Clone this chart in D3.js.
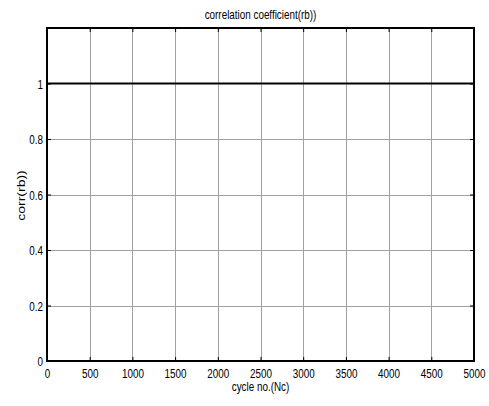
<!DOCTYPE html>
<html>
<head>
<meta charset="utf-8">
<script src="https://cdn.jsdelivr.net/npm/d3@7"></script>
<style>
  html, body { margin: 0; padding: 0; background: #fff; }
  svg { display: block; }
  text { font-family: "Liberation Sans", Arial, Helvetica, sans-serif; fill: #000; }
</style>
</head>
<body>
<svg id="chart" width="489" height="406"></svg>
<script>
// Correlation coefficient per cycle number
const cycles = [0, 500, 1000, 1500, 2000, 2500, 3000, 3500, 4000, 4500, 5000];
const corr = [1, 1, 1, 1, 1, 1, 1, 1, 1, 1, 1];
const xTicks = [0, 500, 1000, 1500, 2000, 2500, 3000, 3500, 4000, 4500, 5000];
const yTicks = [0, 0.2, 0.4, 0.6, 0.8, 1];

const W = 489, H = 406;
const m = { left: 47, right: 15, top: 28, bottom: 45 };
const FS = 13;      // font size
const SQ = 0.76;    // horizontal condensing of the lettering
const svg = d3.select("#chart");

const x = d3.scaleLinear().domain([0, 5000]).range([m.left, W - m.right]);
const y = d3.scaleLinear().domain([0, 1.2]).range([H - m.bottom, m.top]);

// condense a text element horizontally about its own anchor point
function condense(sel) {
  sel.each(function () {
    const t = d3.select(this);
    const tx = +t.attr("x") || 0, ty = +t.attr("y") || 0;
    t.attr("x", 0).attr("y", 0)
     .attr("transform", `translate(${tx},${ty}) scale(${SQ},1)`);
  });
}

// grid
const grid = svg.append("g").attr("stroke", "#a0a0a0").attr("stroke-width", 1);
grid.selectAll("line.vx").data(xTicks.slice(1, -1)).join("line")
  .attr("x1", d => Math.round(x(d)) + 0.5).attr("x2", d => Math.round(x(d)) + 0.5)
  .attr("y1", y(1.2)).attr("y2", y(0));
grid.selectAll("line.hy").data(yTicks.slice(1)).join("line")
  .attr("y1", d => Math.round(y(d)) + 0.5).attr("y2", d => Math.round(y(d)) + 0.5)
  .attr("x1", x(0)).attr("x2", x(5000));

// axes with inward ticks
const tickLen = 4;
const fmtY = d => String(+d.toFixed(1));
const axB = svg.append("g").attr("transform", `translate(0,${y(0)})`)
  .call(d3.axisBottom(x).tickValues(xTicks).tickSize(-tickLen).tickPadding(7).tickFormat(d3.format("d")));
const axT = svg.append("g").attr("transform", `translate(0,${y(1.2)})`)
  .call(d3.axisTop(x).tickValues(xTicks).tickSize(-tickLen).tickFormat(""));
const axL = svg.append("g").attr("transform", `translate(${x(0)},0)`)
  .call(d3.axisLeft(y).tickValues(yTicks).tickSize(-tickLen).tickPadding(4).tickFormat(fmtY));
const axR = svg.append("g").attr("transform", `translate(${x(5000)},0)`)
  .call(d3.axisRight(y).tickValues(yTicks).tickSize(-tickLen).tickFormat(""));
[axB, axT, axL, axR].forEach(a => {
  a.select(".domain").remove();
  a.selectAll(".tick line").attr("stroke", "#000");
  a.selectAll("text").attr("font-size", FS).style("font-family", null);
});
// baselines: x labels ~17px below the axis, y labels centred on their tick
axB.selectAll(".tick text").attr("dy", null).attr("y", 17).call(condense);
axL.selectAll(".tick text").attr("dy", null).attr("y", FS * 0.35).call(condense);

// data line
svg.append("path").datum(cycles.map((c, i) => [c, corr[i]]))
  .attr("fill", "none").attr("stroke", "#000").attr("stroke-width", 2)
  .attr("d", d3.line().x(d => x(d[0])).y(d => y(d[1])));

// frame
svg.append("rect").attr("x", x(0)).attr("y", y(1.2))
  .attr("width", x(5000) - x(0)).attr("height", y(0) - y(1.2))
  .attr("fill", "none").attr("stroke", "#000").attr("stroke-width", 2);

// titles
const cx = (x(0) + x(5000)) / 2;
svg.append("text").attr("x", cx).attr("y", 19)
  .attr("text-anchor", "middle").attr("font-size", FS).text("correlation coefficient(rb))")
  .call(condense);
svg.append("text").attr("x", cx).attr("y", 391)
  .attr("text-anchor", "middle").attr("font-size", FS).text("cycle no.(Nc)")
  .call(condense);
svg.append("text")
  .attr("transform", `translate(25,${(y(0) + y(1.2)) / 2 + 1}) scale(${SQ},1) rotate(-90)`)
  .attr("text-anchor", "middle").attr("font-size", 14).text("corr(rb))");
</script>
</body>
</html>
